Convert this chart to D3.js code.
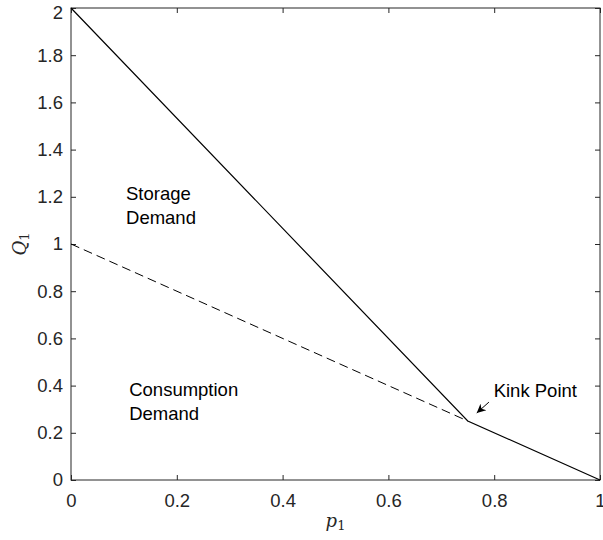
<!DOCTYPE html>
<html>
<head>
<meta charset="utf-8">
<script src="https://cdn.jsdelivr.net/npm/d3@7"></script>
<style>
body { margin: 0; background: #fff; }
text { font-family: "Liberation Sans", Arial, sans-serif; }
</style>
</head>
<body>
<div id="chart"></div>
<script>
// data
var totalDemand = [[0, 2], [0.75, 0.25], [1, 0]];
var consumptionDemand = [[0, 1], [0.75, 0.25]];
var xTicks = [0, 0.2, 0.4, 0.6, 0.8, 1];
var yTicks = [0, 0.2, 0.4, 0.6, 0.8, 1, 1.2, 1.4, 1.6, 1.8, 2];
var regionLabels = [
	{lines: ["Storage", "Demand"], x: 0.104, y: 1.185},
	{lines: ["Consumption", "Demand"], x: 0.11, y: 0.355}
];
var kink = {label: "Kink Point", from: [0.79, 0.33], to: [0.767, 0.284], labelAt: [0.799, 0.35]};

var width = 603, height = 540;
var margin = {top: 8, right: 3, bottom: 60, left: 71};
var w = width - margin.left - margin.right,
	h = height - margin.top - margin.bottom;

var svg = d3.select("#chart").append("svg")
	.attr("width", width).attr("height", height);
var g = svg.append("g")
	.attr("transform", "translate(" + margin.left + "," + margin.top + ")");

var x = d3.scaleLinear().domain([0, 1]).range([0, w]);
var y = d3.scaleLinear().domain([0, 2]).range([h, 0]);

var axisColor = "#262626";
var fs = "18.5px";

// axes (ticks inward, box on)
function styleAxis(sel) {
	sel.select(".domain").remove();
	sel.selectAll("line").attr("stroke", axisColor);
	sel.selectAll("text").attr("fill", axisColor).style("font-size", fs);
}
g.append("g").attr("transform", "translate(0," + h + ")")
	.call(d3.axisBottom(x).tickValues(xTicks).tickFormat(d3.format("~g")).tickSizeInner(-5).tickPadding(14))
	.call(styleAxis);
var yAxisG = g.append("g")
	.call(d3.axisLeft(y).tickValues(yTicks).tickFormat(d3.format("~g")).tickSizeInner(-5).tickPadding(8))
	.call(styleAxis);
// top label would be clipped by the page edge, nudge it down a bit
yAxisG.selectAll(".tick text").filter(function (d) {return d === 2;}).attr("dy", "0.55em");
g.append("g")
	.call(d3.axisTop(x).tickValues(xTicks).tickFormat("").tickSizeInner(-5))
	.call(styleAxis);
g.append("g").attr("transform", "translate(" + w + ",0)")
	.call(d3.axisRight(y).tickValues(yTicks).tickFormat("").tickSizeInner(-5))
	.call(styleAxis);
g.append("rect").attr("width", w).attr("height", h)
	.attr("fill", "none").attr("stroke", axisColor).attr("stroke-width", 1);

var line = d3.line().x(function (d) {return x(d[0]);}).y(function (d) {return y(d[1]);});

g.append("path").datum(consumptionDemand)
	.attr("d", line).attr("fill", "none").attr("stroke", "#000")
	.attr("stroke-width", 1).attr("stroke-dasharray", "9,5");
g.append("path").datum(totalDemand)
	.attr("d", line).attr("fill", "none").attr("stroke", "#000").attr("stroke-width", 1.2);

// region labels
regionLabels.forEach(function (r) {
	var t = g.append("text").attr("x", x(r.x)).attr("y", y(r.y))
		.style("font-size", fs).attr("fill", "#000");
	r.lines.forEach(function (s, i) {
		t.append("tspan").attr("x", x(r.x)).attr("dy", i === 0 ? 0 : 24).text(s);
	});
});

// kink arrow
svg.append("defs").append("marker")
	.attr("id", "head").attr("viewBox", "0 0 10 10")
	.attr("refX", 10).attr("refY", 5)
	.attr("markerWidth", 11).attr("markerHeight", 9)
	.attr("markerUnits", "userSpaceOnUse").attr("orient", "auto")
	.append("path").attr("d", "M0,0 L10,5 L0,10 L3,5 Z").attr("fill", "#000");
g.append("line")
	.attr("x1", x(kink.from[0])).attr("y1", y(kink.from[1]))
	.attr("x2", x(kink.to[0])).attr("y2", y(kink.to[1]))
	.attr("stroke", "#000").attr("stroke-width", 1)
	.attr("marker-end", "url(#head)");
g.append("text").attr("x", x(kink.labelAt[0])).attr("y", y(kink.labelAt[1]))
	.style("font-size", fs).attr("fill", "#000").text(kink.label);

// axis labels
svg.append("text")
	.attr("x", margin.left + w / 2).attr("y", 527)
	.attr("text-anchor", "middle")
	.style("font-family", "'DejaVu Serif', 'Liberation Serif', serif")
	.style("font-style", "italic").style("font-size", "18px").attr("fill", axisColor)
	.html("p<tspan dy='3' font-size='13' font-style='normal'>1</tspan>");
svg.append("text")
	.attr("transform", "translate(26," + (margin.top + h / 2) + ") rotate(-90)")
	.attr("text-anchor", "middle")
	.style("font-family", "'DejaVu Serif', 'Liberation Serif', serif")
	.style("font-style", "italic").style("font-size", "18px").attr("fill", axisColor)
	.html("Q<tspan dy='3' font-size='13' font-style='normal'>1</tspan>");
</script>
</body>
</html>
